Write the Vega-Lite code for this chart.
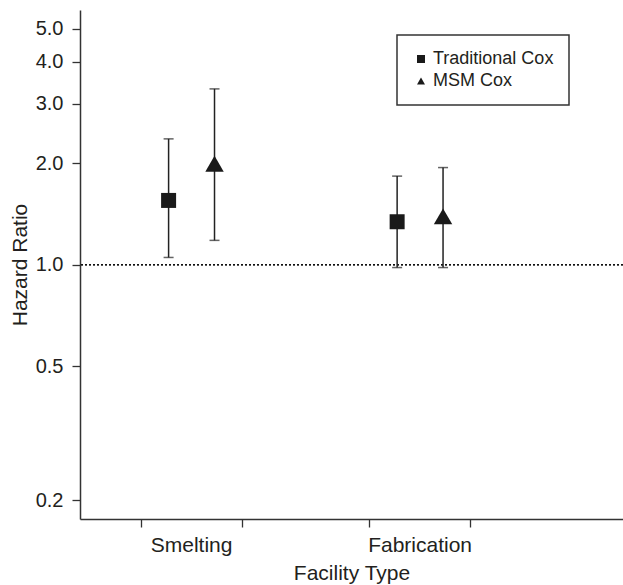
{
  "$schema": "https://vega.github.io/schema/vega-lite/v6.json",
  "description": "Hazard ratios by facility type, traditional vs MSM Cox",
  "background": "white",
  "autosize": "none",
  "padding": {"left": 80, "top": 10, "right": 0, "bottom": 66},
  "width": 543,
  "height": 509,
  "data": {
    "values": [
      {"facility": "Smelting", "model": "Traditional Cox", "hr": 1.55, "lower": 1.05, "upper": 2.36},
      {"facility": "Smelting", "model": "MSM Cox", "hr": 1.99, "lower": 1.18, "upper": 3.32},
      {"facility": "Fabrication", "model": "Traditional Cox", "hr": 1.34, "lower": 0.98, "upper": 1.83},
      {"facility": "Fabrication", "model": "MSM Cox", "hr": 1.39, "lower": 0.98, "upper": 1.94}
    ]
  },
  "layer": [
    {
      "mark": {"type": "rule", "strokeDash": [2, 2], "strokeWidth": 1.2, "color": "#111"},
      "encoding": {
        "y": {"datum": 1, "type": "quantitative"}
      }
    },
    {
      "mark": {"type": "rule", "strokeWidth": 1.5, "color": "#222"},
      "encoding": {
        "x": {
          "field": "facility", "type": "nominal",
          "scale": {"domain": ["Smelting", "Fabrication"], "paddingInner": 0.558, "paddingOuter": 0.467, "align": 0.286},
          "axis": {"orient": "bottom", "bandPosition": 0, "labelAngle": 0, "title": "Facility Type"}
        },
        "xOffset": {
          "field": "model", "type": "nominal",
          "scale": {"domain": ["Traditional Cox", "MSM Cox"], "paddingInner": 0, "paddingOuter": 0.1}
        },
        "y": {
          "field": "lower", "type": "quantitative",
          "scale": {"type": "log", "domain": [0.176, 5.69], "nice": false, "zero": false},
          "axis": {"values": [0.2, 0.5, 1, 2, 3, 4, 5], "format": ".1f", "title": "Hazard Ratio"}
        },
        "y2": {"field": "upper"}
      }
    },
    {
      "mark": {"type": "tick", "size": 10, "thickness": 1.5, "color": "#222"},
      "encoding": {
        "x": {
          "field": "facility", "type": "nominal",
          "axis": {"orient": "bottom", "bandPosition": 1, "labels": false, "domain": false, "title": null}
        },
        "xOffset": {"field": "model", "type": "nominal"},
        "y": {"field": "upper", "type": "quantitative"}
      }
    },
    {
      "mark": {"type": "tick", "size": 10, "thickness": 1.5, "color": "#222"},
      "encoding": {
        "x": {"field": "facility", "type": "nominal", "axis": null},
        "xOffset": {"field": "model", "type": "nominal"},
        "y": {"field": "lower", "type": "quantitative"}
      }
    },
    {
      "transform": [{"filter": "datum.model === 'Traditional Cox'"}],
      "mark": {"type": "point", "filled": true, "opacity": 1, "color": "#1a1a1a", "size": 225},
      "encoding": {
        "x": {"field": "facility", "type": "nominal", "axis": null},
        "xOffset": {"field": "model", "type": "nominal"},
        "y": {"field": "hr", "type": "quantitative"},
        "shape": {
          "field": "model", "type": "nominal",
          "scale": {"domain": ["Traditional Cox", "MSM Cox"], "range": ["square", "triangle-up"]},
          "legend": {"orient": "none", "legendX": 317, "legendY": 25, "title": null}
        }
      }
    },
    {
      "transform": [{"filter": "datum.model === 'MSM Cox'"}],
      "mark": {"type": "point", "filled": true, "opacity": 1, "color": "#1a1a1a", "size": 340},
      "encoding": {
        "x": {"field": "facility", "type": "nominal", "axis": null},
        "xOffset": {"field": "model", "type": "nominal"},
        "y": {"field": "hr", "type": "quantitative"},
        "shape": {"field": "model", "type": "nominal"}
      }
    }
  ],
  "resolve": {"axis": {"x": "independent"}},
  "config": {
    "font": "Liberation Sans",
    "view": {"stroke": null},
    "axis": {
      "grid": false,
      "domainColor": "#333",
      "domainWidth": 1.5,
      "tickColor": "#333",
      "tickWidth": 1.3,
      "tickSize": 8,
      "labelFont": "Liberation Sans",
      "labelFontSize": 20,
      "labelColor": "#231f20",
      "labelPadding": 9,
      "titleFont": "Liberation Sans",
      "titleFontSize": 21,
      "titleFontWeight": "normal",
      "titleColor": "#231f20"
    },
    "axisY": {"titlePadding": 5},
    "axisX": {"titlePadding": 7, "labelFontSize": 21, "labelPadding": 7},
    "legend": {
      "strokeColor": "#333",
      "strokeWidth": 1.5,
      "padding": 15,
      "rowPadding": 4,
      "labelOffset": 3,
      "labelFont": "Liberation Sans",
      "labelFontSize": 18,
      "labelColor": "#231f20",
      "symbolSize": 64,
      "symbolFillColor": "#1a1a1a",
      "symbolStrokeWidth": 0
    }
  }
}
